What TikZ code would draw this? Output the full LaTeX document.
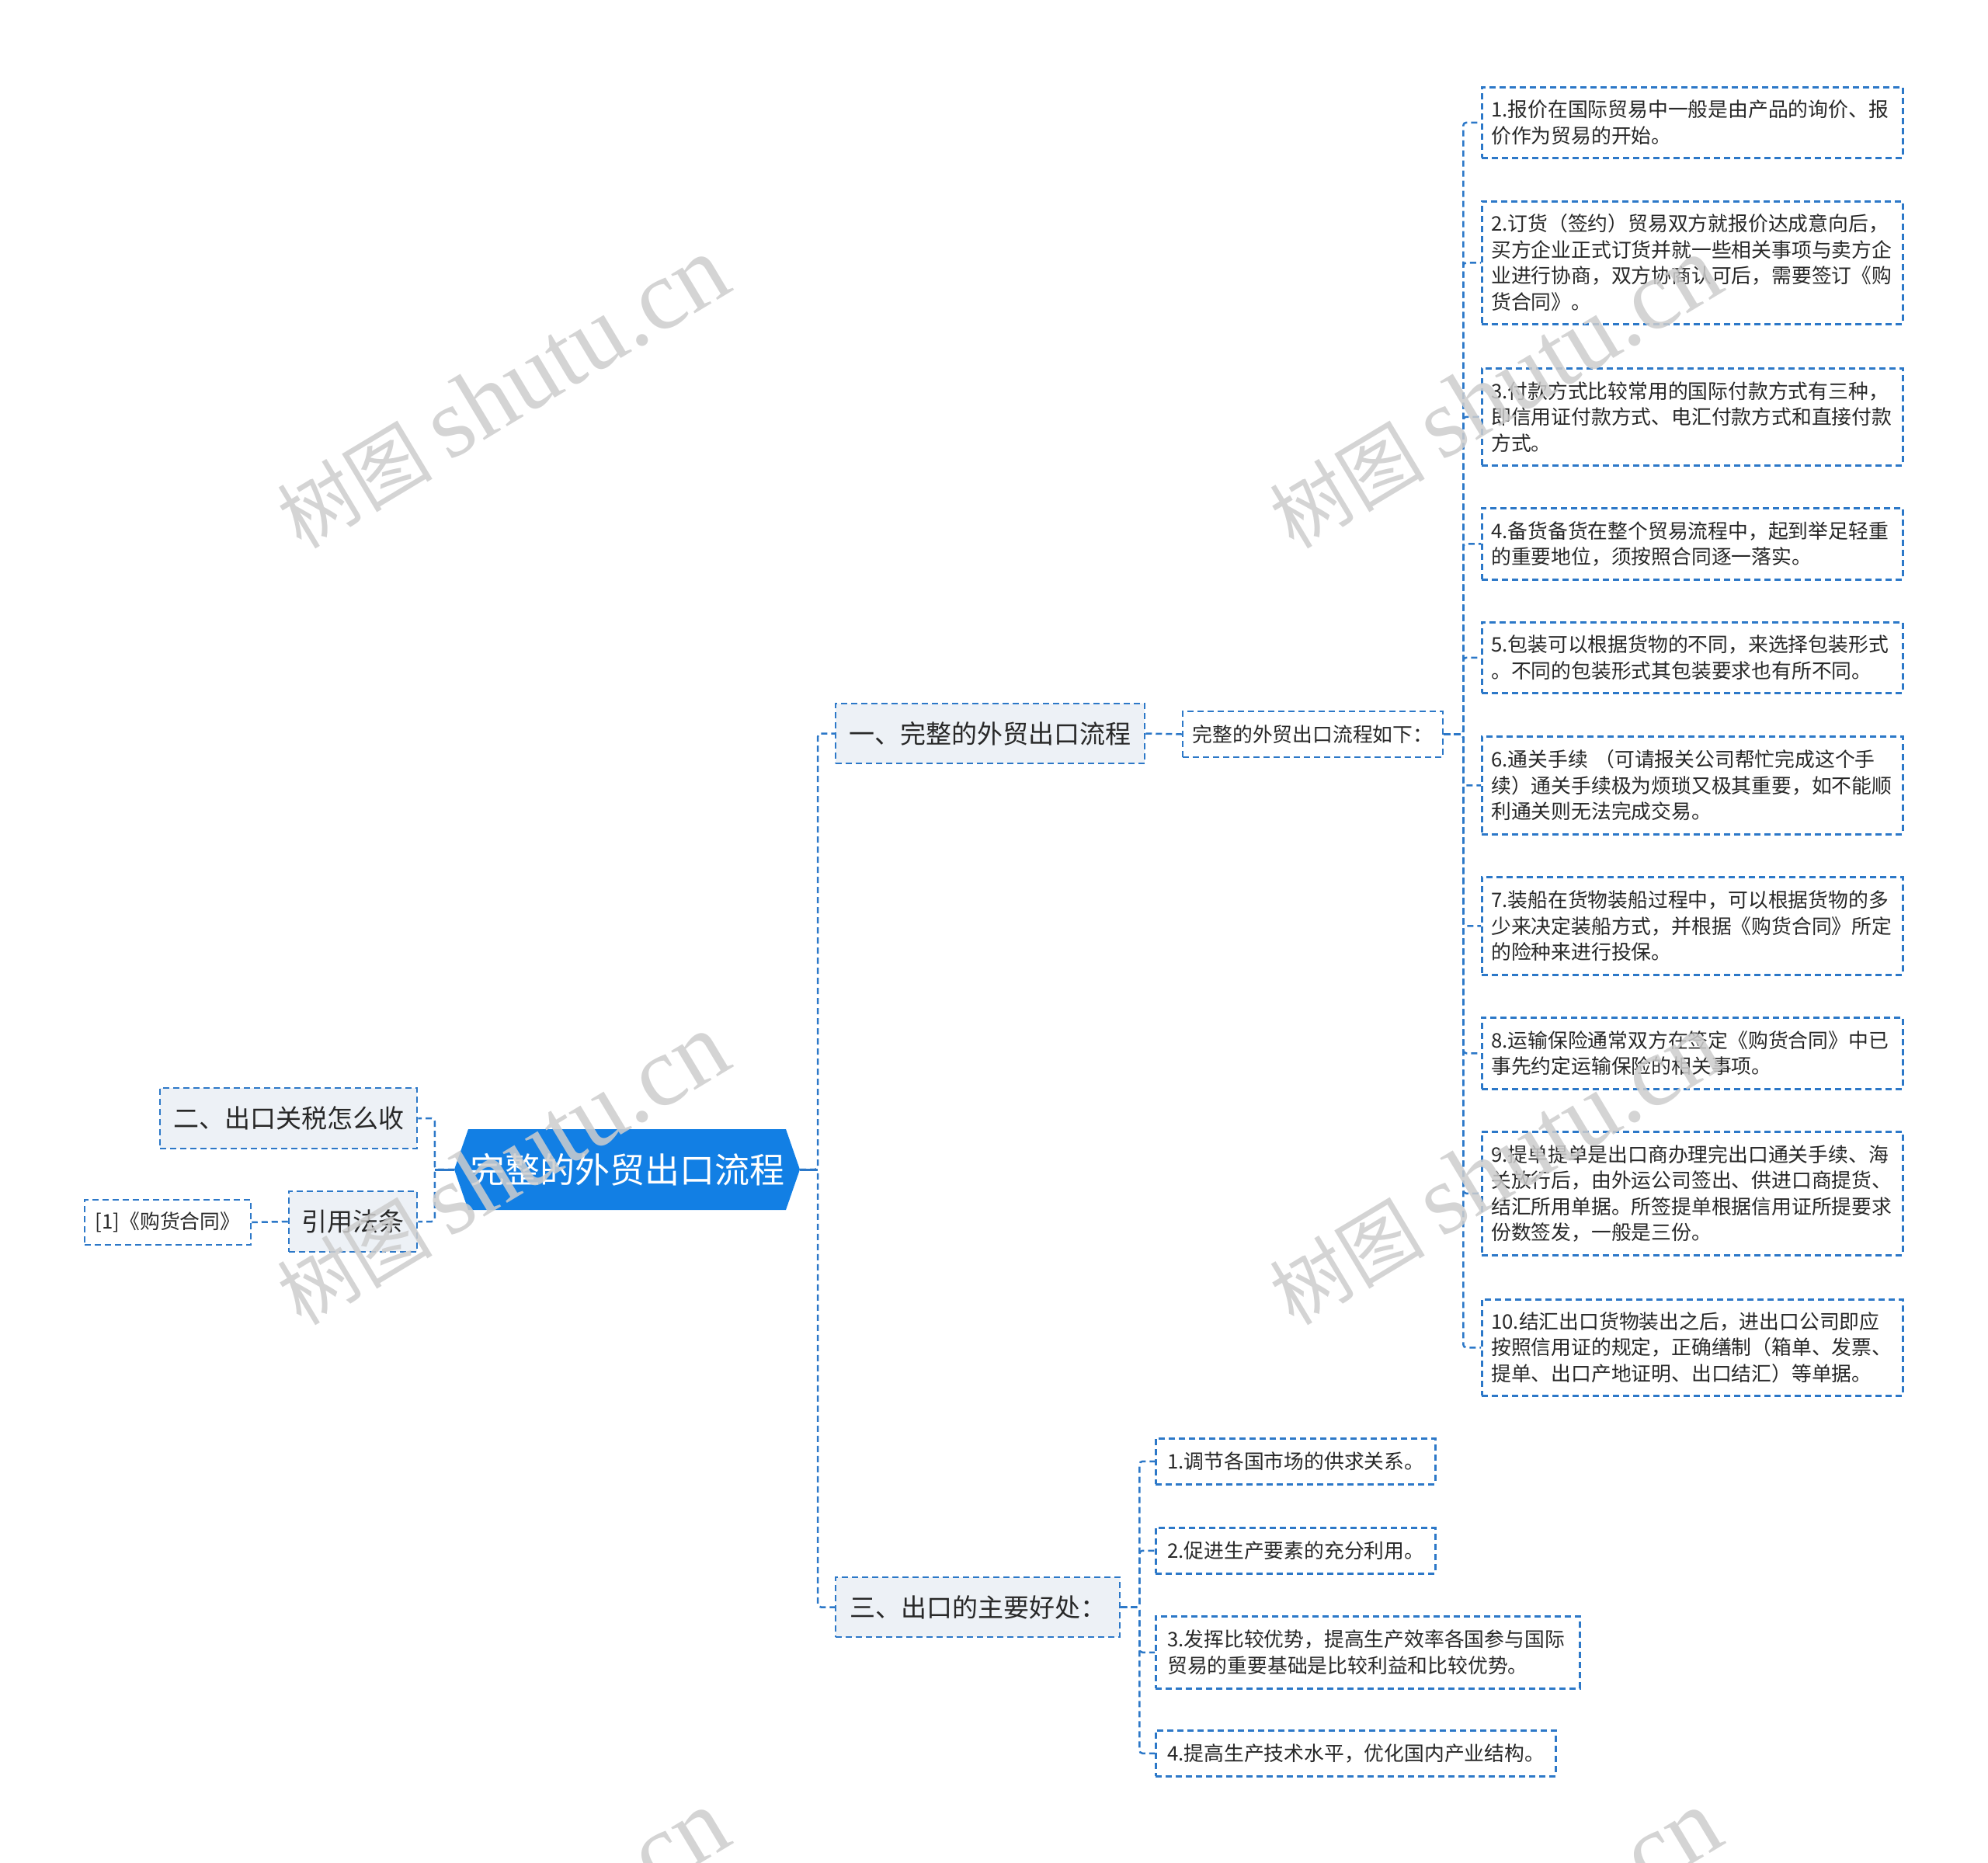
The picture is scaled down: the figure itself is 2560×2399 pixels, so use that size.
\documentclass[tikz,border=0pt]{standalone}
\usepackage{fontspec}
\setmainfont{Noto Sans CJK SC}
\newfontfamily\wmserif{Liberation Serif}
\newfontfamily\wmcjk{Noto Sans CJK SC}
\definecolor{linec}{RGB}{44,120,200}
\definecolor{rootblue}{RGB}{18,127,228}
\definecolor{lonefill}{RGB}{237,241,246}
\definecolor{txt}{RGB}{40,40,40}
\definecolor{wmc}{RGB}{205,205,205}
\begin{document}
\begin{tikzpicture}[x=1pt,y=-1pt,
  box/.style={draw=linec, line width=2.5pt, dash pattern=on 8pt off 5pt, text=txt, inner ysep=0pt},
  levelone/.style={box, fill=lonefill, align=center, inner xsep=0pt, font=\fontsize{33}{40}\selectfont},
  small/.style={box, fill=white, align=center, inner xsep=0pt, font=\fontsize{25.8}{33.5}\selectfont},
  item/.style={box, fill=white, align=left, anchor=north west, inner xsep=12pt, text width=518pt, font=\fontsize{25.8}{33.5}\selectfont},
  subitem/.style={box, fill=white, align=left, anchor=north west, inner xsep=15pt, font=\fontsize{25.8}{33.5}\selectfont},
  conn/.style={draw=linec, line width=2.5pt, dash pattern=on 8pt off 5pt, rounded corners=4pt},
  wm/.style={text=wmc, opacity=0.85, rotate=31, inner sep=0pt}
]
\useasboundingbox (0,0) rectangle (2560,2399);

% root hexagon background
\fill[rootblue] (585,1506) -- (603,1454) -- (1012,1454) -- (1030,1506) -- (1012,1558) -- (603,1558) -- cycle;
\node[minimum width=445pt, minimum height=104pt, inner sep=0pt, text=white,
  font=\fontsize{45}{51}\selectfont] (root) at (807.5,1506) {完整的外贸出口流程};

% level one
\node[levelone, minimum width=398pt, minimum height=77pt] (a) at (1275,944.5) {一、完整的外贸出口流程};
\node[levelone, minimum width=366pt, minimum height=77pt] (c) at (1259,2069.5) {三、出口的主要好处：};
\node[levelone, minimum width=331pt, minimum height=78pt] (b) at (371.5,1440) {二、出口关税怎么收};
\node[levelone, minimum width=165pt, minimum height=78pt] (law) at (454.5,1573) {引用法条};
\node[small, minimum width=214pt, minimum height=58pt] (lawref) at (216,1574) {[1]《购货合同》};
\node[small, minimum width=335pt, minimum height=59pt] (flow) at (1690.5,945.5) {完整的外贸出口流程如下：};

% right items
\node[item, minimum height=91pt] (i1) at (1907,111) {1.报价在国际贸易中一般是由产品的询价、报\\价作为贸易的开始。};
\node[item, minimum height=158pt] (i2) at (1907,258) {2.订货（签约）贸易双方就报价达成意向后，\\买方企业正式订货并就一些相关事项与卖方企\\业进行协商，双方协商认可后，需要签订《购\\货合同》。};
\node[item, minimum height=125pt] (i3) at (1907,473) {3.付款方式比较常用的国际付款方式有三种，\\即信用证付款方式、电汇付款方式和直接付款\\方式。};
\node[item, minimum height=92pt] (i4) at (1907,653) {4.备货备货在整个贸易流程中，起到举足轻重\\的重要地位，须按照合同逐一落实。};
\node[item, minimum height=91pt] (i5) at (1907,800) {5.包装可以根据货物的不同，来选择包装形式\\。不同的包装形式其包装要求也有所不同。};
\node[item, minimum height=126pt] (i6) at (1907,947) {6.通关手续 （可请报关公司帮忙完成这个手\\续）通关手续极为烦琐又极其重要，如不能顺\\利通关则无法完成交易。};
\node[item, minimum height=126pt] (i7) at (1907,1128) {7.装船在货物装船过程中，可以根据货物的多\\少来决定装船方式，并根据《购货合同》所定\\的险种来进行投保。};
\node[item, minimum height=92pt] (i8) at (1907,1309) {8.运输保险通常双方在签定《购货合同》中已\\事先约定运输保险的相关事项。};
\node[item, minimum height=159pt] (i9) at (1907,1456) {9.提单提单是出口商办理完出口通关手续、海\\关放行后，由外运公司签出、供进口商提货、\\结汇所用单据。所签提单根据信用证所提要求\\份数签发，一般是三份。};
\node[item, minimum height=124pt] (i10) at (1907,1672) {10.结汇出口货物装出之后，进出口公司即应\\按照信用证的规定，正确缮制（箱单、发票、\\提单、出口产地证明、出口结汇）等单据。};

% sub items of c
\node[subitem, text width=330pt, minimum height=59pt] (s1) at (1487,1851) {1.调节各国市场的供求关系。};
\node[subitem, text width=330pt, minimum height=59pt] (s2) at (1487,1966) {2.促进生产要素的充分利用。};
\node[subitem, text width=516pt, minimum height=93pt] (s3) at (1487,2080) {3.发挥比较优势，提高生产效率各国参与国际\\贸易的重要基础是比较利益和比较优势。};
\node[subitem, text width=485pt, minimum height=59pt] (s4) at (1487,2227) {4.提高生产技术水平，优化国内产业结构。};

% connectors
\draw[draw=linec, line width=3pt] (root.east) -- ++(23,0);
\draw[draw=linec, line width=3pt] (root.west) -- ++(-25,0);
\draw[conn] (root.east) -- ++(23,0) |- (a.west);
\draw[conn] (root.east) -- ++(23,0) |- (c.west);
\draw[conn] (root.west) -- ++(-25,0) |- (b.east);
\draw[conn] (root.west) -- ++(-25,0) |- (law.east);
\draw[conn] (law.west) -- (lawref.east);
\draw[conn] (a.east) -- (flow.west);
\foreach \n in {i1,i2,i3,i4,i5,i6,i7,i8,i9,i10}{
  \draw[conn] (flow.east) -- ++(25,0) |- (\n.west);
}
\foreach \n in {s1,s2,s3,s4}{
  \draw[conn] (c.east) -- ++(24,0) |- (\n.west);
}

% watermarks
\begin{scope}
\clip (0,0) rectangle (2560,2399);
\foreach \p/\q in {647/506, 1925/506, 647/1506, 1925/1506, 647/2506, 1925/2506}{
  \node[wm] (wm-\p-\q) at (\p,\q) {{\wmcjk\fontsize{100}{110}\selectfont 树图}\hspace{22pt}{\wmserif\fontsize{128}{140}\selectfont shutu.cn}};
}
\end{scope}
\end{tikzpicture}
\end{document}
